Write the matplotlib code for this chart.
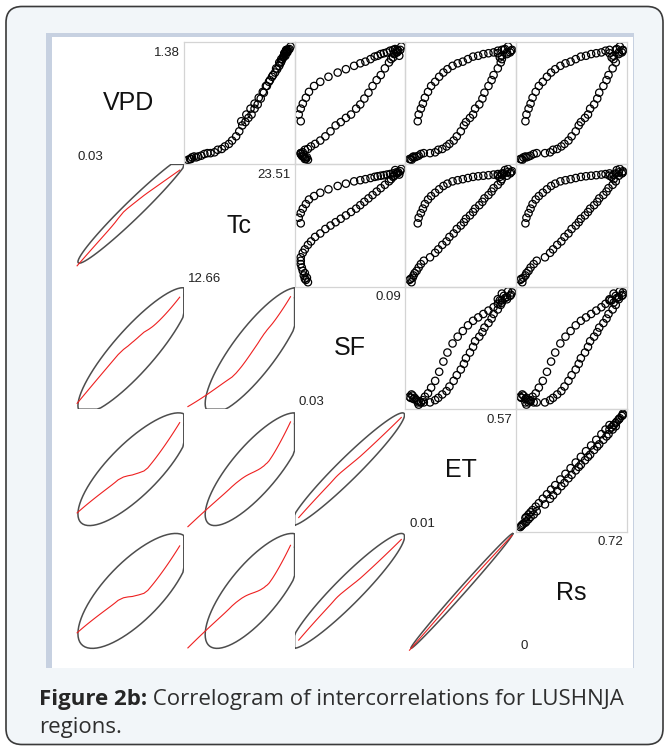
import matplotlib
matplotlib.use("Agg")
import matplotlib.pyplot as plt
import numpy as np
from matplotlib.patches import FancyBboxPatch, Rectangle

plt.rcParams['font.family'] = ['Liberation Sans', 'DejaVu Sans']

# seasonal series (winter -> spring -> summer -> autumn)
vpd = [0.03, 0.04, 0.06, 0.04, 0.07, 0.06, 0.07, 0.08, 0.10, 0.11,
       0.11, 0.12, 0.15, 0.16, 0.19, 0.22, 0.26, 0.31, 0.37, 0.44, 0.48, 0.53, 0.57, 0.64, 0.69,
       0.76, 0.83, 0.91, 0.98, 1.04, 1.12, 1.19,
       1.23, 1.29, 1.31, 1.34, 1.38, 1.33, 1.35, 1.27, 1.31, 1.25, 1.34, 1.30,
       1.34, 1.33, 1.31, 1.30, 1.29, 1.27, 1.26, 1.23, 1.20, 1.18, 1.15, 1.11, 1.07, 1.02, 0.96,
       0.91, 0.84, 0.77, 0.70, 0.64, 0.57, 0.49]
tc = [12.66, 12.88, 13.09, 12.99, 13.31, 13.53, 13.75, 14.07, 14.40, 14.72,
      15.05, 15.48, 15.81, 16.24, 16.57, 17.00, 17.33, 17.76, 18.09, 18.41, 18.74, 19.06, 19.39,
      19.71, 20.04, 20.36, 20.69, 21.01, 21.34, 21.67, 21.99, 22.32,
      22.53, 22.86, 23.08, 23.29, 23.51, 23.18, 23.40, 22.97, 23.18, 22.75, 23.08, 22.86,
      23.08, 23.02, 22.97, 22.91, 22.86, 22.81, 22.75, 22.64, 22.53, 22.43, 22.32, 22.10, 21.88,
      21.56, 21.23, 20.91, 20.58, 20.15, 19.71, 19.28, 18.84, 18.30]
sf = [0.0354, 0.0342, 0.0348, 0.0336, 0.0330, 0.0336, 0.0324, 0.0318, 0.0312, 0.0312,
      0.0312, 0.0324, 0.0336, 0.0354, 0.0372, 0.0396, 0.0426, 0.0456, 0.0486, 0.0516, 0.0546,
      0.0576, 0.0606, 0.0636, 0.0660, 0.0684, 0.0708, 0.0732, 0.0756, 0.0780, 0.0804, 0.0828,
      0.0840, 0.0858, 0.0876, 0.0894, 0.0900, 0.0882, 0.0864, 0.0888, 0.0870, 0.0852, 0.0876, 0.0858,
      0.0852, 0.0834, 0.0816, 0.0798, 0.0780, 0.0762, 0.0744, 0.0720, 0.0690, 0.0660, 0.0624,
      0.0576, 0.0528, 0.0474, 0.0426, 0.0390, 0.0360, 0.0342, 0.0324, 0.0312, 0.0300, 0.0312]
et = [0.021, 0.010, 0.027, 0.016, 0.032, 0.038, 0.049, 0.060, 0.072, 0.088,
      0.122, 0.150, 0.167, 0.189, 0.212, 0.228, 0.251, 0.268, 0.290, 0.307, 0.318, 0.340, 0.357,
      0.368, 0.391, 0.408, 0.419, 0.441, 0.458, 0.469, 0.492, 0.508,
      0.514, 0.542, 0.559, 0.570, 0.548, 0.564, 0.531, 0.514, 0.542, 0.503, 0.525, 0.492,
      0.514, 0.492, 0.469, 0.441, 0.413, 0.385, 0.357, 0.329, 0.301, 0.273, 0.245, 0.217, 0.195,
      0.172, 0.150, 0.128, 0.111, 0.094, 0.083, 0.072, 0.060, 0.055]
rs = [0.014, 0.000, 0.022, 0.007, 0.036, 0.043, 0.058, 0.072, 0.094, 0.115,
      0.173, 0.209, 0.230, 0.259, 0.288, 0.310, 0.338, 0.360, 0.389, 0.410, 0.425, 0.454, 0.475,
      0.490, 0.518, 0.540, 0.554, 0.583, 0.605, 0.619, 0.648, 0.670,
      0.655, 0.691, 0.713, 0.720, 0.698, 0.720, 0.677, 0.655, 0.691, 0.641, 0.670, 0.626,
      0.626, 0.598, 0.569, 0.533, 0.497, 0.461, 0.425, 0.389, 0.353, 0.317, 0.281, 0.245, 0.216,
      0.187, 0.158, 0.130, 0.108, 0.086, 0.072, 0.058, 0.043, 0.036]

names = ["VPD", "Tc", "SF", "ET", "Rs"]
caption_bold = "Figure 2b:"
caption_rest = " Correlogram of intercorrelations for LUSHNJA"
caption_line2 = "regions."

data = [np.array(v, dtype=float) for v in (vpd, tc, sf, et, rs)]


def lowess(x, y, f=2/3, iters=3):
    # same idea as R's stats::lowess
    order = np.argsort(x, kind="stable")
    x, y = x[order], y[order]
    n = len(x)
    r = max(2, int(f * n + 1e-7))
    fit = np.zeros(n)
    rob = np.ones(n)
    for _ in range(iters + 1):
        for i in range(n):
            d = np.abs(x - x[i])
            h = max(np.sort(d)[r - 1], 1e-12)
            w = (1 - np.clip(d / h, 0, 1) ** 3) ** 3 * rob
            sw = w.sum()
            xm, ym = (w * x).sum() / sw, (w * y).sum() / sw
            sxx = (w * (x - xm) ** 2).sum()
            b = (w * (x - xm) * (y - ym)).sum() / sxx if sxx > 1e-12 else 0.0
            fit[i] = ym + b * (x[i] - xm)
        res = y - fit
        s = np.median(np.abs(res))
        if s == 0:
            break
        u = np.clip(res / (6 * s), -1, 1)
        rob = (1 - u ** 2) ** 2
    return x, fit


def ellipse_pts(x, y, level=0.68, segments=75):
    n = len(x)
    dfd = n - 1
    # F(2, dfd) quantile, closed form
    q = dfd / 2 * ((1 - level) ** (-2 / dfd) - 1)
    radius = np.sqrt(2 * q)
    shape = np.cov(np.vstack([x, y]))
    chol = np.linalg.cholesky(shape).T
    ang = np.linspace(0, 2 * np.pi, segments)
    circ = np.column_stack([np.cos(ang), np.sin(ang)])
    pts = np.array([x.mean(), y.mean()]) + radius * circ @ chol
    return pts[:, 0], pts[:, 1]


W, H = 669, 751
fig = plt.figure(figsize=(W / 100, H / 100), dpi=100)
fig.patch.set_facecolor("white")

# page frame in pixel coordinates
bg = fig.add_axes([0, 0, 1, 1], zorder=0)
bg.set_xlim(0, W)
bg.set_ylim(H, 0)
bg.axis("off")
bg.add_patch(FancyBboxPatch((6, 6.5), 657, 738, boxstyle="round,pad=0,rounding_size=16",
                            facecolor="#f2f6f9", edgecolor="#3a3a3a", linewidth=1.2))
bg.add_patch(Rectangle((46, 33), 588, 635, facecolor="#c7d1e1", edgecolor="none"))
bg.add_patch(Rectangle((52, 37), 581, 631, facecolor="white", edgecolor="none"))

cap_font = ['Open Sans', 'DejaVu Sans']
t1 = bg.text(39, 705, caption_bold, fontsize=16, fontweight="bold", color="#262626",
             va="baseline", ha="left", family=cap_font)
bg.annotate(caption_rest, xy=(1, 0), xycoords=t1, va="bottom", ha="left",
            fontsize=16, color="#2e2e2e", family=cap_font)
bg.text(39, 733, caption_line2, fontsize=16, color="#2e2e2e", va="baseline", ha="left",
        family=cap_font)

# correlogram grid
gx0, gx1, gy0, gy1 = 73, 627, 42, 654
cw, ch = (gx1 - gx0) / 5, (gy1 - gy0) / 5
lims = []
for v in data:
    span = v.max() - v.min()
    lims.append((v.min() - 0.04 * span, v.max() + 0.04 * span))

for i in range(5):
    for j in range(5):
        left, top = gx0 + j * cw, gy0 + i * ch
        ax = fig.add_axes([left / W, 1 - (top + ch) / H, cw / W, ch / H], zorder=2)
        ax.patch.set_visible(False)
        ax.set_xticks([])
        ax.set_yticks([])
        ax.set_xlim(lims[j])
        ax.set_ylim(lims[i])
        x, y = data[j], data[i]
        if i < j:
            for s in ax.spines.values():
                s.set_color("#d4d4d4")
                s.set_linewidth(0.9)
            ax.scatter(x, y, s=28, facecolors="none", edgecolors="black", linewidths=0.9)
        else:
            for s in ax.spines.values():
                s.set_visible(False)
        if i == j:
            v = data[i]
            lo, hi = round(v.min(), 2), round(v.max(), 2)
            ax.text(np.mean(lims[i]), np.mean(lims[i]), names[i], fontsize=18,
                    ha="center", va="center", color="#111111")
            ax.text(v.min(), v.min(), f"{lo:g}", fontsize=9.5, ha="left", va="baseline",
                    color="#222222")
            ax.text(v.max(), v.max(), f"{hi:g}", fontsize=9.5, ha="right", va="top",
                    color="#222222")
        elif i > j:
            ex, ey = ellipse_pts(x, y)
            ex = np.clip(ex, *lims[j])
            ey = np.clip(ey, *lims[i])
            ax.plot(ex, ey, color="#4d4d4d", linewidth=1.1)
            lx, ly = lowess(x, y)
            ax.plot(lx, ly, color="#ee2020", linewidth=0.8)

fig.savefig("out.png", dpi=100)
